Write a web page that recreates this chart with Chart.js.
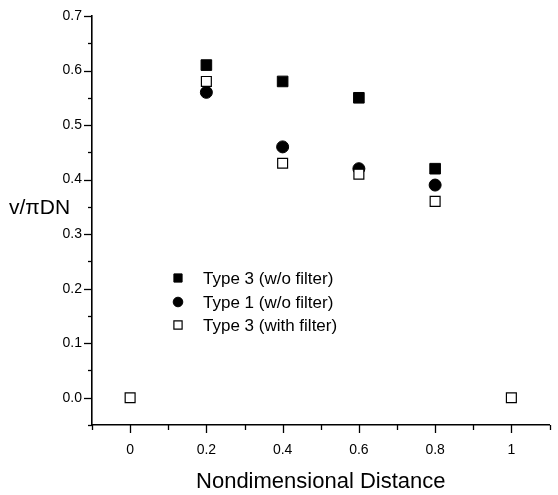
<!DOCTYPE html>
<html>
<head>
<meta charset="utf-8">
<script src="https://cdn.jsdelivr.net/npm/chart.js@4/dist/chart.umd.min.js"></script>
<style>
  html, body { margin: 0; padding: 0; background: #fff; }
  #wrap { width: 558px; height: 495px; }
</style>
</head>
<body>
<div id="wrap"><canvas id="chart" width="558" height="495"></canvas></div>
<script>
// measured points along the nondimensional distance
const distance = [0, 0.2, 0.4, 0.6, 0.8, 1];
const type3NoFilter = [null, 0.61, 0.58, 0.55, 0.42, null];
const type1NoFilter = [null, 0.56, 0.46, 0.42, 0.39, null];
const type3WithFilter = [0, 0.58, 0.43, 0.41, 0.36, 0];

const seriesLabels = ["Type 3 (w/o filter)", "Type 1 (w/o filter)", "Type 3 (with filter)"];

const FONT = "'Liberation Sans', Arial, Helvetica, sans-serif";
Chart.defaults.font.family = FONT;
Chart.defaults.color = "#000";

function toPoints(values) {
  let pts = [];
  for (let i = 0; i < distance.length; i++) {
    if (values[i] !== null) pts.push({ x: distance[i], y: values[i] });
  }
  return pts;
}

// short outward tick marks, longer on labelled values
const tickMarks = {
  id: "tickMarks",
  afterDraw(chart) {
    const ctx = chart.ctx;
    const xs = chart.scales.x, ys = chart.scales.y;
    const area = chart.chartArea;
    ctx.save();
    ctx.strokeStyle = "#000";
    ctx.lineWidth = 1.3;
    ys.ticks.forEach(t => {
      let py = Math.round(ys.getPixelForValue(t.value)) + 0.5;
      let len = t.label !== "" ? 8 : 4;
      ctx.beginPath();
      ctx.moveTo(area.left, py);
      ctx.lineTo(area.left - len, py);
      ctx.stroke();
    });
    xs.ticks.forEach(t => {
      let px = Math.round(xs.getPixelForValue(t.value)) + 0.5;
      let len = t.label !== "" ? 8 : 5;
      ctx.beginPath();
      ctx.moveTo(px, area.bottom);
      ctx.lineTo(px, area.bottom + len);
      ctx.stroke();
    });
    ctx.restore();
  }
};

// horizontal y title and the inset legend
const annotations = {
  id: "annotations",
  afterDraw(chart) {
    const ctx = chart.ctx;
    ctx.save();
    ctx.fillStyle = "#000";
    ctx.textBaseline = "middle";
    ctx.textAlign = "left";
    ctx.font = "21px " + FONT;
    ctx.fillText("v/\u03C0DN", 9, 208);

    const rows = [278, 302, 325];
    ctx.font = "17px " + FONT;
    chart.data.datasets.forEach((ds, i) => {
      ctx.fillStyle = ds.backgroundColor;
      ctx.strokeStyle = ds.borderColor;
      ctx.lineWidth = ds.borderWidth;
      Chart.helpers.drawPoint(ctx, {
        pointStyle: ds.pointStyle,
        radius: ds.pointStyle === "circle" ? 4.8 : 5.8,
        borderWidth: ds.borderWidth,
        rotation: 0
      }, 178, rows[i]);
      ctx.fillStyle = "#000";
      ctx.fillText(ds.label, 203, rows[i] + 1);
    });
    ctx.restore();
  }
};

new Chart(document.getElementById("chart"), {
  type: "scatter",
  data: {
    datasets: [
      {
        label: seriesLabels[0],
        data: toPoints(type3NoFilter),
        pointStyle: "rect",
        pointRadius: 7.5,
        backgroundColor: "#000",
        borderColor: "#000",
        borderWidth: 1,
        order: 2
      },
      {
        label: seriesLabels[1],
        data: toPoints(type1NoFilter),
        pointStyle: "circle",
        pointRadius: 6,
        backgroundColor: "#000",
        borderColor: "#000",
        borderWidth: 1,
        order: 3
      },
      {
        label: seriesLabels[2],
        data: toPoints(type3WithFilter),
        pointStyle: "rect",
        pointRadius: 7,
        backgroundColor: "#fff",
        borderColor: "#000",
        borderWidth: 1.2,
        order: 1
      }
    ]
  },
  options: {
    responsive: false,
    animation: false,
    layout: { padding: { top: 16, right: 6, left: 0, bottom: 0 } },
    plugins: {
      legend: { display: false },
      tooltip: { enabled: false }
    },
    scales: {
      x: {
        type: "linear",
        min: -0.1,
        max: 1.1,
        grid: { display: false },
        border: { display: true, color: "#000", width: 1.6 },
        ticks: {
          stepSize: 0.1,
          autoSkip: false,
          maxRotation: 0,
          padding: 9,
          font: { size: 14 },
          callback: v => {
            let n = Math.round(v * 10);
            if (n < 0 || n > 10 || n % 2 !== 0) return "";
            return String(n / 10);
          }
        },
        title: {
          display: true,
          text: "Nondimensional Distance",
          font: { size: 22 },
          padding: { top: 8, bottom: 0 }
        },
        afterFit(s) {
          s.height = 70;
          s.paddingLeft = 0;
          s.paddingRight = 0;
        }
      },
      y: {
        type: "linear",
        min: -0.05,
        max: 0.7,
        grid: { display: false },
        border: { display: true, color: "#000", width: 1.6 },
        ticks: {
          stepSize: 0.05,
          autoSkip: false,
          padding: 2,
          font: { size: 14 },
          callback: v => {
            let n = Math.round(v * 100);
            if (n < 0 || n % 10 !== 0) return "";
            return (n / 100).toFixed(1);
          }
        },
        afterFit(s) { s.width = 92; }
      }
    }
  },
  plugins: [tickMarks, annotations]
});
</script>
</body>
</html>
